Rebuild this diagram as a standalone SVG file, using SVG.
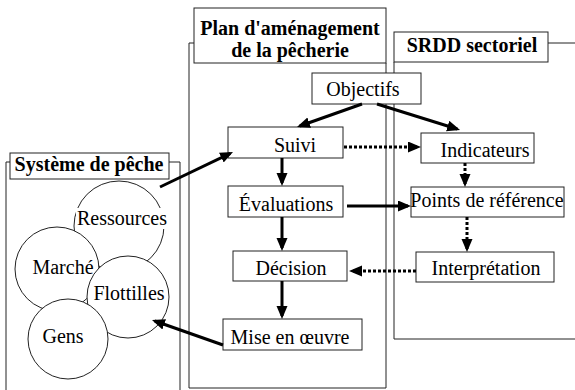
<svg xmlns="http://www.w3.org/2000/svg" width="575" height="390" viewBox="0 0 575 390">
<style>
.frame{fill:none;stroke:#222;stroke-width:1}
.lbl{fill:#fff;stroke:#222;stroke-width:1}
.box{fill:#fff;stroke:#222;stroke-width:1}
.circ{fill:#fff;stroke:#222;stroke-width:1}
.t{font-size:20px;fill:#000;text-anchor:middle}
.tb{font-size:20px;font-weight:bold;fill:#000;text-anchor:middle}
.solid{fill:none;stroke:#000;stroke-width:3;marker-end:url(#ah)}
.dot{fill:none;stroke:#000;stroke-width:3;stroke-dasharray:3 2;marker-end:url(#ah)}
</style>
<defs>
<marker id="ah" markerUnits="userSpaceOnUse" markerWidth="14" markerHeight="12" refX="10" refY="5.5" orient="auto">
<path d="M0,0 L13,5.5 L0,11 Z" fill="#000"/>
</marker>
</defs>
<rect width="575" height="390" fill="#fff"/>
<g font-family="'Liberation Serif', 'DejaVu Serif', serif">

<g id="systeme">
<polyline class="frame" points="6,392 6,162 10,162"/>
<polyline class="frame" points="169,162 180,162 180,392"/>
<rect class="lbl" x="10" y="153" width="159" height="26"/>
<text class="tb" x="89" y="171">Système de pêche</text>
<g id="ressources"><circle class="circ" cx="119" cy="226" r="45"/><rect x="76" y="208" width="92" height="21" fill="#fff"/><text class="t" x="122" y="225">Ressources</text></g>
<g id="marche"><circle class="circ" cx="57" cy="269" r="42"/><text class="t" x="63" y="274">Marché</text></g>
<g id="flottilles"><circle class="circ" cx="128" cy="297" r="41"/><text class="t" x="129" y="300">Flottilles</text></g>
<g id="gens"><circle class="circ" cx="68" cy="339" r="40"/><text class="t" x="63" y="343">Gens</text></g>
</g>

<g id="plan">
<polyline class="frame" points="194,43 189,43 189,388 386,388 386,63"/>
<rect class="lbl" x="194" y="8" width="192" height="55"/>
<text class="tb" x="290" y="35">Plan d'aménagement</text>
<text class="tb" x="290" y="57">de la pêcherie</text>
</g>

<g id="srdd">
<polyline class="frame" points="548,43 576,43"/>
<polyline class="frame" points="394,62 394,339 576,339"/>
<rect class="lbl" x="394" y="32" width="154" height="30"/>
<text class="tb" x="472" y="52">SRDD sectoriel</text>
</g>

<g id="objectifs"><rect class="box" x="312" y="73" width="109" height="31"/><text class="t" x="363" y="96">Objectifs</text></g>
<g id="suivi"><rect class="box" x="228" y="127" width="115" height="31"/><text class="t" x="295" y="152">Suivi</text></g>
<g id="evaluations"><rect class="box" x="228" y="186" width="115" height="31"/><text class="t" x="286" y="211">Évaluations</text></g>
<g id="decision"><rect class="box" x="233" y="251" width="114" height="30"/><text class="t" x="291" y="275">Décision</text></g>
<g id="miseenoeuvre"><rect class="box" x="223" y="319" width="139" height="31"/><text class="t" x="290" y="344">Mise en œuvre</text></g>
<g id="indicateurs"><rect class="box" x="421" y="133" width="113" height="30"/><text class="t" x="485" y="157">Indicateurs</text></g>
<g id="points"><rect class="box" x="411" y="187" width="153" height="30"/><text class="t" x="487" y="207">Points de référence</text></g>
<g id="interpretation"><rect class="box" x="416" y="252" width="138" height="30"/><text class="t" x="486" y="275">Interprétation</text></g>
</g>

<g id="connectors">
<line class="solid" x1="362" y1="104" x2="299.8" y2="126"/>
<line class="solid" x1="377" y1="104" x2="457.2" y2="129"/>
<line class="solid" x1="160" y1="187" x2="230.3" y2="153.3"/>
<line class="solid" x1="223" y1="345" x2="154.8" y2="321"/>
<line class="solid" x1="282" y1="158" x2="282" y2="183"/>
<line class="solid" x1="282" y1="217" x2="282" y2="248"/>
<line class="solid" x1="282" y1="281" x2="282" y2="316"/>
<line class="dot" x1="344" y1="147" x2="418" y2="147"/>
<line class="solid" x1="347" y1="206" x2="408" y2="206"/>
<line class="dot" x1="465" y1="163" x2="465" y2="184"/>
<line class="dot" x1="467" y1="217" x2="467" y2="249"/>
<line class="dot" x1="416" y1="271" x2="352" y2="271"/>
</g>
</svg>
